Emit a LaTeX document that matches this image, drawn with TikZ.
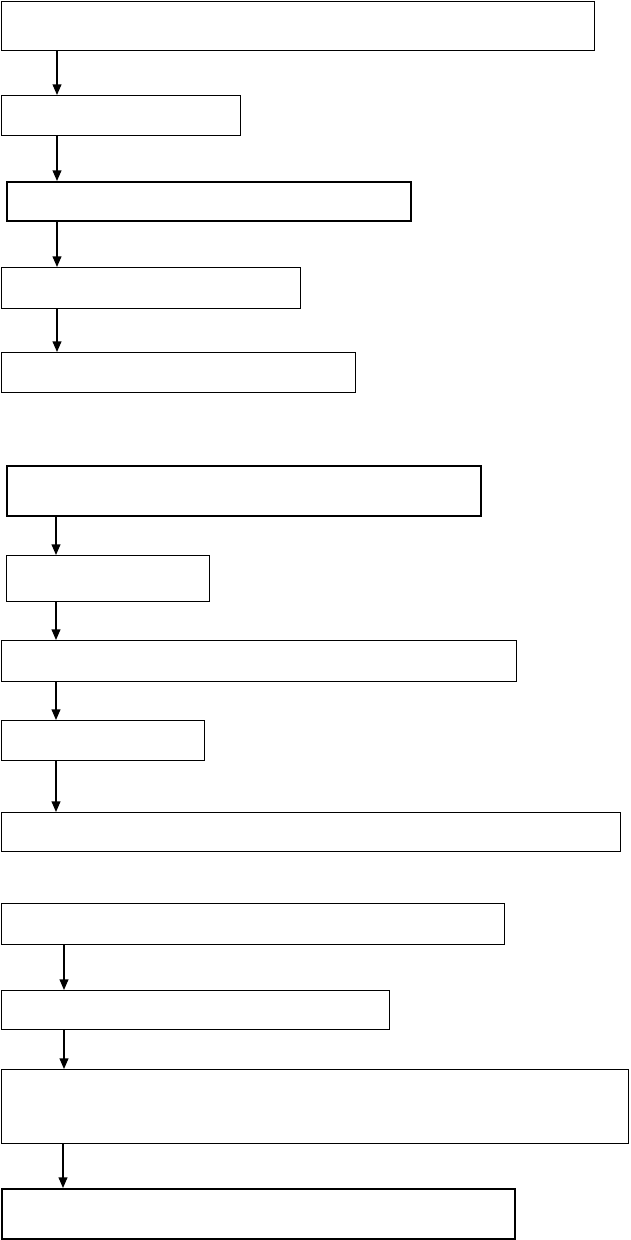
\documentclass[tikz,border=0pt]{standalone}
\usepackage{tikz}
\usetikzlibrary{positioning,arrows.meta,calc}

\begin{document}
\begin{tikzpicture}[x=0.02cm,y=-0.02cm,
  box/.style 2 args={draw=black,line width=0.8pt,fill=white,anchor=north west,inner sep=0pt,
    minimum width=#1*0.02cm,minimum height=#2*0.02cm},
  heavy/.style={line width=1.3pt},
  arr/.style={draw=black,line width=0.7pt,-{Triangle[width=5pt,length=6pt]}}
]
\useasboundingbox (0,0) rectangle (630,1240);
% first chain
\node[box={593}{49}] (b1) at (1,1) {};
\node[box={239}{40}] (b2) at (1,95) {};
\node[box={404}{39},heavy] (b3) at (6,181) {};
\node[box={299}{41}] (b4) at (1,267) {};
\node[box={354}{40}] (b5) at (1,352) {};
% second chain
\node[box={474}{50},heavy] (b6) at (6,465) {};
\node[box={203}{46}] (b7) at (6,555) {};
\node[box={515}{41}] (b8) at (1,640) {};
\node[box={203}{40}] (b9) at (1,720) {};
\node[box={619}{39}] (b10) at (1,812) {};
% third chain
\node[box={503}{41}] (b11) at (1,903) {};
\node[box={388}{39}] (b12) at (1,990) {};
\node[box={627}{74}] (b13) at (1,1069) {};
\node[box={513}{50},heavy] (b14) at (1,1188) {};
% arrow start points
\coordinate (s1) at ($(b1.south west)+(56,0)$);
\coordinate (s2) at ($(b2.south west)+(56,0)$);
\coordinate (s3) at ($(b3.south west)+(51,0)$);
\coordinate (s4) at ($(b4.south west)+(56,0)$);
\coordinate (s6) at ($(b6.south west)+(50,0)$);
\coordinate (s7) at ($(b7.south west)+(50,0)$);
\coordinate (s8) at ($(b8.south west)+(55,0)$);
\coordinate (s9) at ($(b9.south west)+(55,0)$);
\coordinate (s11) at ($(b11.south west)+(63,0)$);
\coordinate (s12) at ($(b12.south west)+(63,0)$);
\coordinate (s13) at ($(b13.south west)+(62,0)$);
% connectors
\draw[arr] (s1) -- (s1 |- b2.north);
\draw[arr] (s2) -- (s2 |- b3.north);
\draw[arr] (s3) -- (s3 |- b4.north);
\draw[arr] (s4) -- (s4 |- b5.north);
\draw[arr] (s6) -- (s6 |- b7.north);
\draw[arr] (s7) -- (s7 |- b8.north);
\draw[arr] (s8) -- (s8 |- b9.north);
\draw[arr] (s9) -- (s9 |- b10.north);
\draw[arr] (s11) -- (s11 |- b12.north);
\draw[arr] (s12) -- (s12 |- b13.north);
\draw[arr] (s13) -- (s13 |- b14.north);
\end{tikzpicture}
\end{document}
